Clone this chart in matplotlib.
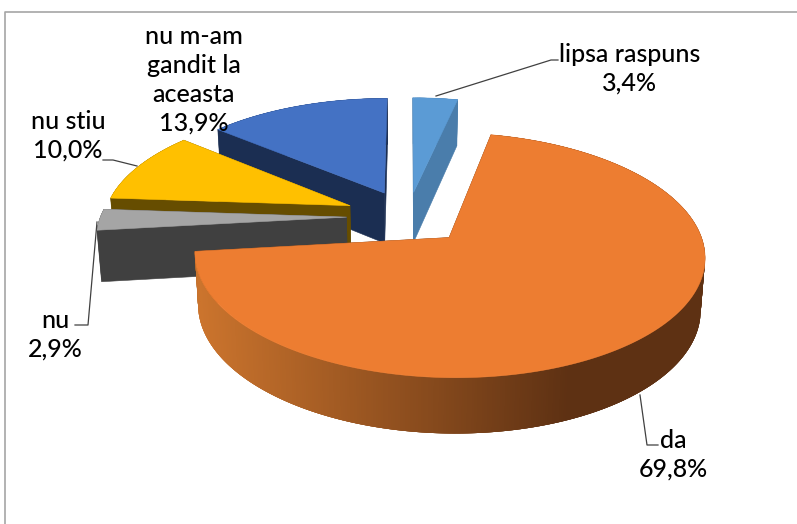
import numpy as np
import matplotlib
matplotlib.use("Agg")
import matplotlib.pyplot as plt
from matplotlib.colors import to_rgb
from matplotlib.patches import Polygon

# --- data ---
categories = ["lipsa raspuns", "da", "nu", "nu stiu", "nu m-am\ngandit la\naceasta"]
values = [3.4, 69.8, 2.9, 10.0, 13.9]

# --- style ---
top_colors = ["#5B9BD5", "#ED7D31", "#A5A5A5", "#FFC000", "#4472C4"]
wall_colors = ["#4A7DAB", "#5E3113", "#404040", "#664D00", "#1B2E52"]
explode = [0.22, 0.243, 0.25, 0.258, 0.234]
draw_order = [4, 0, 3, 2, 1]
CX, CY, A, B, K, DEPTH = 408, 216.5, 246, 114, 0.14, 51
label_pos = [(630, 69), (673, 455), (55, 335), (68, 136), (194, 80)]
leaders = [
    [(436, 96), (551, 60), (558, 60)],
    [(640, 395), (647, 445), (658, 445)],
    [(97, 222), (88, 325), (75, 325)],
    [(137, 166), (113, 160), (103, 160)],
]

fig = plt.figure(figsize=(7.97, 5.24), dpi=100)
ax = fig.add_axes([0, 0, 1, 1])
ax.set_xlim(0, 797)
ax.set_ylim(524, 0)
ax.axis("off")


def project(px, py, low=False):
    d = 1 + K * py
    x = CX + A * px / d
    y = CY - B * py / d
    if low:
        x = CX + (x - CX) * 0.985
        y = y + DEPTH * (1 - 0.08 * py)
    return np.column_stack([x, y])


def poly(pts, color, z, lw=0.4):
    ax.add_patch(Polygon(pts, closed=True, facecolor=color,
                         edgecolor=color if lw else "none",
                         linewidth=lw, zorder=z, joinstyle="round"))


total = sum(values)
edges = np.concatenate([[0], np.cumsum(values)]) / total * 2 * np.pi

for z, i in enumerate(draw_order):
    t0, t1 = edges[i], edges[i + 1]
    mid = (t0 + t1) / 2
    ox, oy = explode[i] * np.sin(mid), explode[i] * np.cos(mid)
    th = np.linspace(t0, t1, max(int(np.degrees(t1 - t0) * 2), 8))
    ax_x, ax_y = ox + np.sin(th), oy + np.cos(th)
    base = 10 * z + 1
    # radial walls
    for t in (t0, t1):
        ex = np.array([ox, ox + np.sin(t)])
        ey = np.array([oy, oy + np.cos(t)])
        pts = np.vstack([project(ex, ey), project(ex, ey, True)[::-1]])
        poly(pts, wall_colors[i], base)
    # outer wall: overlapping strips so no seams show in the shading
    hi, lo = project(ax_x, ax_y), project(ax_x, ax_y, True)
    n = len(th)
    for j in range(n - 1):
        col = wall_colors[i]
        if i == 1:  # shaded rim of the large slice
            f = np.clip((hi[j, 0] - 200) / 370, 0, 1)
            col = tuple((1 - f) * a + f * b for a, b in
                        zip(to_rgb("#CB742D"), to_rgb(wall_colors[i])))
        k = min(j + 4, n - 1)
        poly(np.vstack([hi[j:k + 1], lo[j:k + 1][::-1]]), col, base + 1, lw=0)
    # top face
    apex = project(np.array([ox]), np.array([oy]))
    poly(np.vstack([apex, hi]), top_colors[i], base + 2)

# frame of the pasted picture
ax.plot([5.5, 5.5, 797], [524, 11.5, 11.5], color="#A6A6A6", lw=1.2, zorder=50)

for seg in leaders:
    xs, ys = zip(*seg)
    ax.plot(xs, ys, color="#404040", lw=0.9, zorder=60)

for name, v, (x, y) in zip(categories, values, label_pos):
    pct = f"{v:.1f}".replace(".", ",") + "%"
    ax.text(x, y, f"{name}\n{pct}", ha="center", va="center", fontsize=18,
            family="Lato", fontweight="medium", color="black",
            linespacing=1.3, zorder=70)

fig.savefig("out.png", dpi=100)
